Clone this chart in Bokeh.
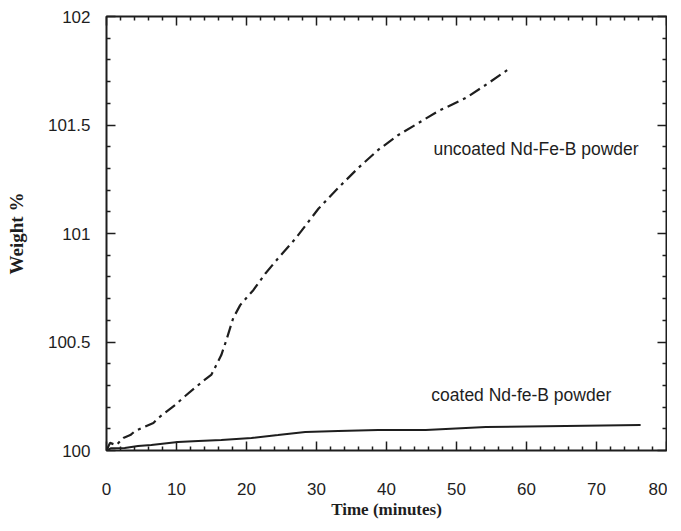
from bokeh.plotting import figure
from bokeh.models import LinearAxis, FixedTicker, Range1d, Label
from bokeh.embed import file_html
from bokeh.resources import INLINE

# ---- data ----
uncoated_time = [0, 0.5, 1.4, 2.4, 3.4, 4.1, 6.7, 7.4, 9.8, 11.2, 13.8, 15.0, 16.4,
                 17.1, 18.1, 19.1, 21.0, 22.7, 24.5, 27.0, 30.3, 33.1, 35.9, 38.8,
                 41.7, 44.6, 47.4, 51.3, 54.6, 57.7]
uncoated_weight = [100.0, 100.035, 100.025, 100.058, 100.071, 100.09, 100.127, 100.15,
                   100.21, 100.25, 100.32, 100.35, 100.44, 100.506, 100.61, 100.67,
                   100.74, 100.816, 100.885, 100.977, 101.115, 101.21, 101.30, 101.385,
                   101.454, 101.51, 101.564, 101.624, 101.694, 101.763]

coated_time = [0, 0.6, 2.6, 4.5, 6.4, 10.2, 13.1, 16.4, 20.7, 24.5, 28.4, 33.1, 38.8,
               45.6, 54.2, 65.6, 76.3]
coated_weight = [100.0, 100.01, 100.012, 100.021, 100.025, 100.039, 100.044, 100.048,
                 100.058, 100.071, 100.085, 100.09, 100.094, 100.095, 100.108, 100.113,
                 100.118]

x_ticks = [0, 10, 20, 30, 40, 50, 60, 70, 80]
x_minor = [2, 4, 6, 8, 12, 14, 16, 18, 22, 24, 26, 28, 32, 34, 36, 38, 42, 44, 46, 48,
           52, 54, 56, 58, 62, 64, 66, 68, 72, 74, 76, 78]
y_ticks = [100, 100.5, 101, 101.5, 102]
y_tick_labels = ["100", "100.5", "101", "101.5", "102"]
y_minor = [100.1, 100.2, 100.3, 100.4, 100.6, 100.7, 100.8, 100.9,
           101.1, 101.2, 101.3, 101.4, 101.6, 101.7, 101.8, 101.9]

uncoated_label = "uncoated Nd-Fe-B powder"
coated_label = "coated Nd-fe-B powder"
x_title = "Time (minutes)"
y_title = "Weight %"

INK = "#1e1e1e"

p = figure(width=667, height=524, output_backend="svg", toolbar_location=None,
           x_range=Range1d(0, 80), y_range=Range1d(100, 102),
           x_axis_location=None, y_axis_location=None,
           min_border_left=106, min_border_right=1, min_border_top=16,
           min_border_bottom=74)
p.grid.visible = False
p.outline_line_color = INK
p.outline_line_width = 2
p.background_fill_color = "white"
p.border_fill_color = "white"

xt = FixedTicker(ticks=x_ticks, minor_ticks=x_minor)
yt = FixedTicker(ticks=y_ticks, minor_ticks=y_minor)


def style(ax, labels=True):
    ax.axis_line_color = None
    ax.major_tick_in = 9
    ax.major_tick_out = 0
    ax.minor_tick_in = 4
    ax.minor_tick_out = 0
    ax.major_tick_line_color = INK
    ax.minor_tick_line_color = INK
    ax.major_tick_line_width = 1.5
    ax.minor_tick_line_width = 1.5
    if labels:
        ax.major_label_text_font = "Liberation Sans"
        ax.major_label_text_font_size = "17px"
        ax.major_label_text_color = INK
        ax.axis_label_text_font = "Liberation Serif"
        ax.axis_label_text_font_style = "bold"
        ax.axis_label_text_color = INK
    else:
        # tick marks only: labels are not drawn and take no room
        ax.major_label_text_font_size = "0px"
        ax.major_label_text_alpha = 0
        ax.major_label_standoff = 0


bottom = LinearAxis(ticker=xt, axis_label=x_title)
style(bottom)
bottom.major_label_standoff = 32
bottom.axis_label_standoff = 2
bottom.axis_label_text_font_size = "17px"
p.add_layout(bottom, "below")

left = LinearAxis(ticker=yt, axis_label=y_title,
                  major_label_overrides=dict(zip(y_ticks, y_tick_labels)))
style(left)
left.major_label_standoff = 16
left.axis_label_standoff = 18
left.axis_label_text_font_size = "19px"
p.add_layout(left, "left")

top = LinearAxis(ticker=xt)
style(top, labels=False)
p.add_layout(top, "above")

right = LinearAxis(ticker=yt)
style(right, labels=False)
p.add_layout(right, "right")

p.line(uncoated_time, uncoated_weight, line_color=INK, line_width=2.2,
       line_dash="12 5 3 5")
p.line(coated_time, coated_weight, line_color=INK, line_width=2)

p.add_layout(Label(x=46.7, y=101.39, text=uncoated_label, text_font="Liberation Sans",
                   text_font_size="17.5px", text_color=INK, text_baseline="middle"))
p.add_layout(Label(x=46.4, y=100.256, text=coated_label, text_font="Liberation Sans",
                   text_font_size="17.5px", text_color=INK, text_baseline="middle"))

open("out.html", "w").write(file_html(p, INLINE))
